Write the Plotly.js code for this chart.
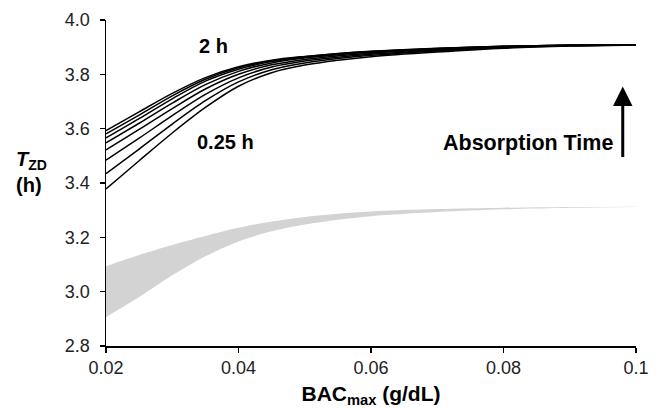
<!DOCTYPE html>
<html>
<head>
<meta charset="utf-8">
<script src="https://cdn.plot.ly/plotly-3.0.1.min.js"></script>
<style>html,body{margin:0;padding:0;background:#fff}#chart{width:658px;height:409px}</style>
</head>
<body>
<div id="chart"></div>
<script>
// BAC_max (g/dL)
const bac = [0.02, 0.025, 0.03, 0.035, 0.04, 0.045, 0.05, 0.055, 0.06, 0.07, 0.08, 0.09, 0.1];
// T_ZD (h) for absorption times 0.25 h ... 2 h
const tzd_025 = [3.378, 3.482, 3.584, 3.678, 3.756, 3.806, 3.834, 3.852, 3.865, 3.882, 3.896, 3.904, 3.908];
const tzd_050 = [3.434, 3.525, 3.617, 3.703, 3.772, 3.817, 3.842, 3.858, 3.870, 3.886, 3.898, 3.905, 3.908];
const tzd_075 = [3.484, 3.565, 3.648, 3.726, 3.787, 3.827, 3.849, 3.863, 3.874, 3.889, 3.900, 3.906, 3.908];
const tzd_100 = [3.522, 3.597, 3.674, 3.746, 3.800, 3.835, 3.855, 3.868, 3.878, 3.891, 3.901, 3.906, 3.908];
const tzd_125 = [3.548, 3.620, 3.694, 3.762, 3.811, 3.842, 3.860, 3.872, 3.881, 3.893, 3.902, 3.907, 3.908];
const tzd_150 = [3.566, 3.637, 3.710, 3.775, 3.819, 3.847, 3.863, 3.874, 3.883, 3.894, 3.902, 3.907, 3.908];
const tzd_175 = [3.581, 3.650, 3.721, 3.782, 3.824, 3.850, 3.865, 3.876, 3.884, 3.895, 3.903, 3.907, 3.908];
const tzd_200 = [3.593, 3.662, 3.730, 3.788, 3.828, 3.852, 3.866, 3.877, 3.885, 3.896, 3.903, 3.907, 3.908];
// grey band bounds
const bandLower = [2.906, 2.980, 3.060, 3.130, 3.185, 3.222, 3.247, 3.265, 3.278, 3.293, 3.303, 3.309, 3.312];
const bandUpper = [3.094, 3.135, 3.172, 3.205, 3.235, 3.258, 3.275, 3.287, 3.295, 3.304, 3.309, 3.312, 3.313];

const xTicks = [0.02, 0.04, 0.06, 0.08, 0.1];
const xTickText = ["0.02", "0.04", "0.06", "0.08", "0.1"];
const yTicks = [2.8, 3.0, 3.2, 3.4, 3.6, 3.8, 4.0];
const yTickText = ["2.8", "3.0", "3.2", "3.4", "3.6", "3.8", "4.0"];

const series = [tzd_025, tzd_050, tzd_075, tzd_100, tzd_125, tzd_150, tzd_175, tzd_200];
const names = ["0.25 h", "0.5 h", "0.75 h", "1 h", "1.25 h", "1.5 h", "1.75 h", "2 h"];

const traces = [
  {x: bac, y: bandLower, mode: 'lines', line: {width: 0, color: '#d3d3d3', shape: 'spline', smoothing: 0.9}, hoverinfo: 'skip'},
  {x: bac, y: bandUpper, mode: 'lines', line: {width: 0, color: '#d3d3d3', shape: 'spline', smoothing: 0.9}, fill: 'tonexty', fillcolor: '#d3d3d3', hoverinfo: 'skip'}
];
series.forEach((s, i) => traces.push({
  x: bac, y: s, name: names[i], mode: 'lines',
  line: {color: '#000', width: 1.5, shape: 'spline', smoothing: 0.9}
}));

const F = 'Arial, "Liberation Sans", sans-serif';
const layout = {
  width: 658, height: 409,
  margin: {l: 106, r: 22, t: 20, b: 63},
  paper_bgcolor: '#fff', plot_bgcolor: '#fff',
  showlegend: false,
  font: {family: F, color: '#000', size: 18},
  xaxis: {
    range: [0.02, 0.1], tickvals: xTicks, ticktext: xTickText,
    showgrid: false, zeroline: false, showline: true, linecolor: '#000', linewidth: 1.5,
    ticks: 'outside', ticklen: 5, tickwidth: 1.5, tickcolor: '#000',
    tickfont: {family: F, size: 18, color: '#222'},
    title: {text: '<b>BAC<sub>max</sub> (g/dL)</b>', font: {family: F, size: 21, color: '#000'}, standoff: 9}
  },
  yaxis: {
    range: [2.8, 4.0], tickvals: yTicks, ticktext: yTickText,
    showgrid: false, zeroline: false, showline: true, linecolor: '#000', linewidth: 1.5,
    ticks: 'outside', ticklen: 5, tickwidth: 1.5, tickcolor: '#000',
    tickfont: {family: F, size: 18, color: '#222'}, ticklabelstandoff: 6
  },
  annotations: [
    {xref: 'paper', yref: 'paper', x: -0.174, y: 0.535, xanchor: 'left', showarrow: false, align: 'left',
     text: '<b><i>T</i><sub>ZD</sub></b><br><b>(h)</b>', font: {family: F, size: 20, color: '#000'}},
    {x: 0.0362, y: 3.904, showarrow: false, text: '<b>2 h</b>', font: {family: F, size: 20, color: '#000'}},
    {x: 0.0381, y: 3.551, showarrow: false, text: '<b>0.25 h</b>', font: {family: F, size: 20, color: '#000'}},
    {x: 0.0837, y: 3.547, showarrow: false, text: '<b>Absorption Time</b>', font: {family: F, size: 21.5, color: '#000'}},
    {x: 0.098, y: 3.755, ax: 0, ay: 72, showarrow: true, arrowhead: 2, arrowsize: 1.3, arrowwidth: 3, arrowcolor: '#000', text: ''}
  ]
};
Plotly.newPlot('chart', traces, layout, {staticPlot: true, displayModeBar: false});
</script>
</body>
</html>
